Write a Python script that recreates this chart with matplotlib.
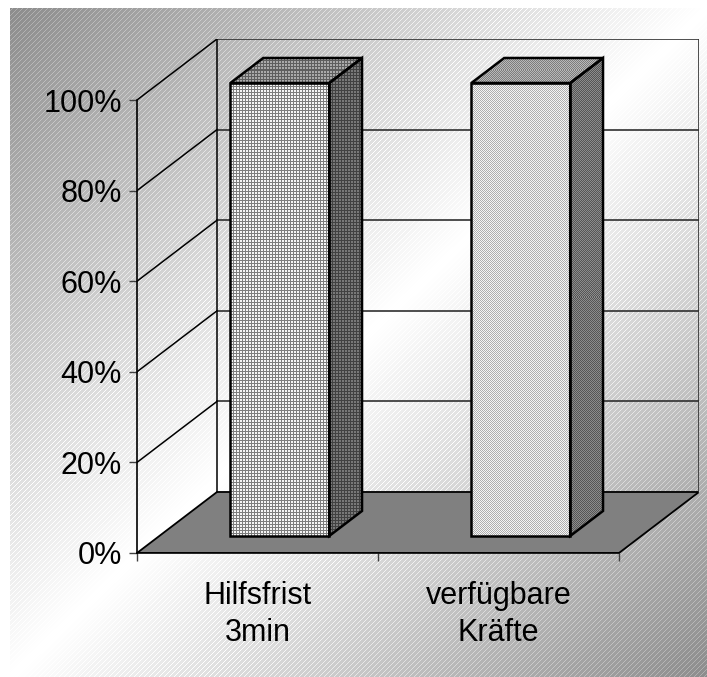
import numpy as np
import matplotlib
matplotlib.use("Agg")
import matplotlib.pyplot as plt
from matplotlib.patches import Polygon

plt.rcParams['font.family'] = ['Liberation Sans', 'DejaVu Sans']

categories = ['Hilfsfrist\n3min', 'verfügbare\nKräfte']
values = [100, 100]
y_ticks = [0, 20, 40, 60, 80, 100]

W, H = 707, 677
fig = plt.figure(figsize=(W / 100, H / 100), dpi=100)

# background: diagonal gradient, white band in the middle, fine light stripes
bg_ax = fig.add_axes([0, 0, 1, 1], zorder=-1)
rows, cols = np.mgrid[0:H, 0:W]
u = ((cols - 10) / (W - 10) + (rows - 8) / (H - 8)) / 2
g = 255 - 115 * np.abs(2 * u - 1)
stripe = (cols + rows) % 5 == 0
g = np.where(stripe, np.minimum(g + 32, 255), g)
g[:8, :] = 255
g[:, :10] = 255
bg_ax.imshow(g, cmap='gray', vmin=0, vmax=255, interpolation='nearest', aspect='auto')
bg_ax.axis('off')

# depth of the 3d box in data units (category units, percent)
dx, dy = 0.332, 13.47
bar_w = 0.41
bar_front, bar_back = 0.279, 0.689

ax = fig.add_axes([137 / W, (H - 553) / H, (699 - 137) / W, (553 - 39) / H])
ax.set_xlim(0, 2 + dx)
ax.set_ylim(0, 100 + dy)
ax.patch.set_visible(False)


def grid_tex(h, w, light, dark):
    i, j = np.mgrid[0:h, 0:w]
    return np.where((i % 3 == 0) | (j % 3 == 0), dark, light)


def dot_tex(h, w, light, dark):
    i, j = np.mgrid[0:h, 0:w]
    return np.where((i + j) % 2 == 0, dark, light)


def face(verts, tex, z):
    xs = [v[0] for v in verts]
    ys = [v[1] for v in verts]
    x0, x1, y0, y1 = min(xs), max(xs), min(ys), max(ys)
    p0 = ax.transData.transform((x0, y0))
    p1 = ax.transData.transform((x1, y1))
    w = max(int(round(p1[0] - p0[0])), 1)
    h = max(int(round(p1[1] - p0[1])), 1)
    img = ax.imshow(tex(h, w), cmap='gray', vmin=0, vmax=255,
                    extent=(x0, x1, y0, y1), interpolation='nearest',
                    aspect='auto', zorder=z)
    img.set_clip_path(Polygon(verts, closed=True, transform=ax.transData))
    ax.add_patch(Polygon(verts, closed=True, facecolor='none', edgecolor='black',
                         lw=1.8, zorder=z + 0.1, joinstyle='miter'))


# floor
ax.add_patch(Polygon([(0, 0), (2, 0), (2 + dx, dy), (dx, dy)], closed=True,
                     facecolor='#808080', edgecolor='black', lw=1.3, zorder=1))

# walls: gridlines on the side wall and back wall
for v in y_ticks[1:]:
    ax.plot([0, dx], [v, v + dy], color='black', lw=1.1, zorder=1.5)
    ax.plot([dx, 2 + dx], [v + dy, v + dy], color='#303030', lw=1.2, zorder=1.5)
ax.plot([dx, dx], [dy, 100 + dy], color='black', lw=1.1, zorder=1.5)
ax.plot([2 + dx, 2 + dx], [dy, 100 + dy], color='#303030', lw=1.2, zorder=1.5)

# bars
styles = [
    (lambda h, w: grid_tex(h, w, 245, 125), lambda h, w: grid_tex(h, w, 170, 95),
     lambda h, w: grid_tex(h, w, 120, 65)),
    (lambda h, w: dot_tex(h, w, 245, 175), lambda h, w: dot_tex(h, w, 185, 125),
     lambda h, w: dot_tex(h, w, 140, 85)),
]
for k, val in enumerate(values):
    c = k + 0.5
    l, r = c - bar_w / 2, c + bar_w / 2
    fx, fy = bar_front * dx, bar_front * dy
    bx, by = bar_back * dx, bar_back * dy
    front = [(l + fx, fy), (r + fx, fy), (r + fx, fy + val), (l + fx, fy + val)]
    top = [(l + fx, fy + val), (r + fx, fy + val), (r + bx, by + val), (l + bx, by + val)]
    side = [(r + fx, fy), (r + bx, by), (r + bx, by + val), (r + fx, fy + val)]
    tex_front, tex_top, tex_side = styles[k]
    face(front, tex_front, 3)
    face(top, tex_top, 3)
    face(side, tex_side, 3)

# axes, ticks and labels
for s in ['top', 'right']:
    ax.spines[s].set_visible(False)
ax.spines['left'].set_bounds(0, 100)
ax.spines['bottom'].set_bounds(0, 2)
ax.spines['left'].set_linewidth(1.2)
ax.spines['bottom'].set_linewidth(1.2)
ax.spines['left'].set_zorder(2)
ax.spines['bottom'].set_zorder(2)

ax.set_yticks(y_ticks)
ax.set_yticklabels([f'{v}%' for v in y_ticks])
ax.tick_params(axis='y', length=6, width=1, color='#404040', pad=5, labelsize=22)

ax.set_xticks([0, 1, 2])
ax.set_xticklabels(['', '', ''])
ax.set_xticks([0.5, 1.5], minor=True)
ax.set_xticklabels(categories, minor=True)
ax.tick_params(axis='x', which='major', length=6, width=1, color='#404040', direction='out')
ax.tick_params(axis='x', which='minor', length=0, pad=20, labelsize=22)
for t in ax.get_xticklabels(minor=True):
    t.set_linespacing(1.3)

fig.savefig('out.png', dpi=100)
